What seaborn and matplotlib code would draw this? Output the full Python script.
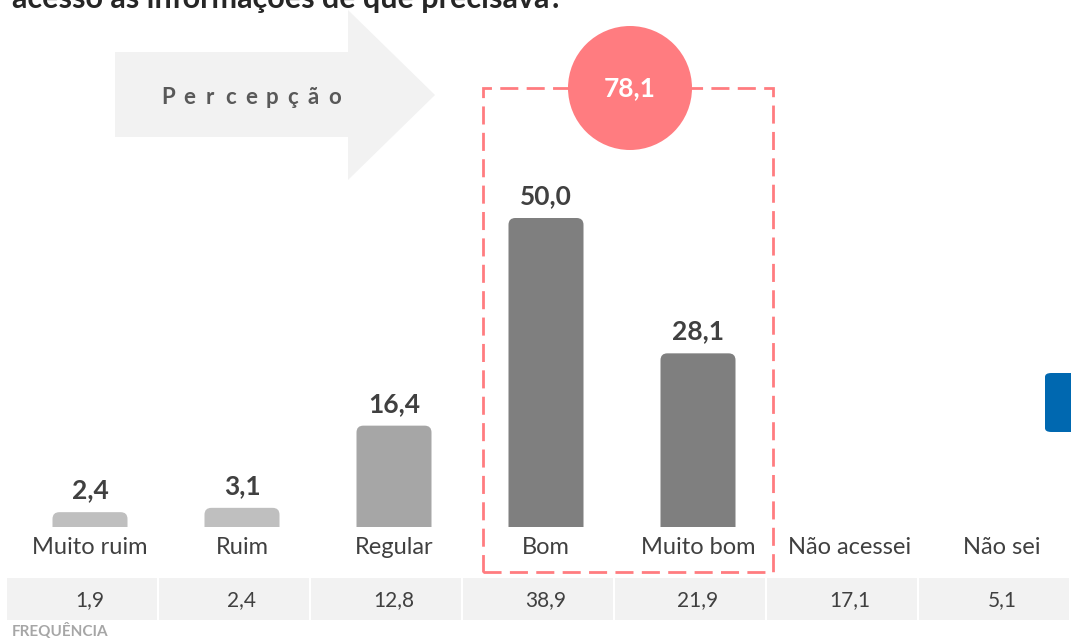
import numpy as np
import pandas as pd
import seaborn as sns
from matplotlib import pyplot as plt
from matplotlib.patches import FancyBboxPatch, Rectangle, Polygon, Ellipse

categories = ["Muito ruim", "Ruim", "Regular", "Bom", "Muito bom", "Não acessei", "Não sei"]
bar_categories = ["Muito ruim", "Ruim", "Regular", "Bom", "Muito bom"]
bar_values = [2.4, 3.1, 16.4, 50.0, 28.1]
frequencia = [1.9, 2.4, 12.8, 38.9, 21.9, 17.1, 5.1]
positive_total = 78.1
title_text = "acesso às informações de que precisava?"

bar_colors = {"Muito ruim": "#BFBFBF", "Ruim": "#BFBFBF", "Regular": "#A6A6A6",
              "Bom": "#7F7F7F", "Muito bom": "#7F7F7F"}

sns.set_theme(style="white")
plt.rcParams["font.family"] = ["Lato", "DejaVu Sans"]

W, H = 1071, 638
fig = plt.figure(figsize=(W / 100, H / 100), dpi=100)
ax = fig.add_axes([0, 0, 1, 1])


def fx(px):
    return px / W


def fy(py):
    return 1 - py / H


# bar axes mapping: category i centred at 90 + 152*i px, baseline at 527 px, 6.18 px per unit
step, x0, base, ppu = 152.0, 90.0, 527.0, 6.18

df = pd.DataFrame({"cat": bar_categories, "val": bar_values})
sns.barplot(data=df, x="cat", y="val", hue="cat", order=categories, palette=bar_colors,
            width=75 / step, legend=False, ax=ax, saturation=1)
ax.set_xlim(-x0 / step, (W - x0) / step)
ax.set_ylim(-(H - base) / ppu, base / ppu)

clip = Rectangle((-1, 0), 10, 200, transform=ax.transData)
for p in list(ax.patches):
    x, w, h = p.get_x(), p.get_width(), p.get_height()
    if np.isnan(h) or h == 0:
        continue
    fb = FancyBboxPatch((x, -3), w, h + 3,
                        boxstyle="round,pad=0,rounding_size=0.045",
                        mutation_aspect=step / ppu,
                        fc=p.get_facecolor(), ec="none", zorder=2)
    ax.add_patch(fb)
    fb.set_clip_path(clip)
    p.set_visible(False)
    ax.annotate(f"{h:.1f}".replace(".", ","), (x + w / 2, h), xytext=(0, 7),
                textcoords="offset points", ha="center", va="bottom",
                fontsize=19, fontweight="bold", color="#404040")

ax.set_xticks([])
ax.set_yticks([])
ax.set_xlabel("")
ax.set_ylabel("")
for s in ax.spines.values():
    s.set_visible(False)

# category labels
for i, c in enumerate(categories):
    fig.text(fx(x0 + step * i), fy(548), c, ha="center", va="center",
             fontsize=17, color="#404040")

# frequency table row
left, cell_w = 6, 152
for i, v in enumerate(frequencia):
    fig.patches.append(Rectangle((fx(left + cell_w * i + 1), fy(620)), fx(cell_w - 2), 42 / H,
                                 transform=fig.transFigure, fc="#F2F2F2", ec="none"))
    fig.text(fx(x0 + step * i), fy(600), f"{v:.1f}".replace(".", ","), ha="center",
             va="center", fontsize=15, color="#404040")
fig.text(fx(12), fy(631), "FREQUÊNCIA", ha="left", va="center", fontsize=11,
         fontweight="bold", color="#A6A6A6")

# arrow "Percepção"
arrow_px = [(115, 52), (348, 52), (348, 10), (435, 95), (348, 180), (348, 137), (115, 137)]
fig.patches.append(Polygon([(fx(a), fy(b)) for a, b in arrow_px], closed=True,
                           transform=fig.transFigure, fc="#F2F2F2", ec="none", zorder=0))
word = "Percepção"
for k, ch in enumerate(word):
    fig.text(fx(168 + k * 20.8), fy(97), ch, ha="center", va="center", fontsize=16,
             fontweight="bold", color="#595959")

# dashed highlight box and circle
fig.patches.append(Rectangle((fx(483), fy(572)), fx(290), (572 - 88) / H,
                             transform=fig.transFigure, fill=False, ec="#FF7C80",
                             lw=2, ls=(0, (6.5, 3)), zorder=3))
fig.patches.append(Ellipse((fx(630), fy(88)), 124 / W, 124 / H, transform=fig.transFigure,
                           fc="#FF7C80", ec="none", zorder=4))
fig.text(fx(630), fy(88), f"{positive_total:.1f}".replace(".", ","), ha="center",
         va="center", fontsize=19, fontweight="bold", color="white", zorder=5)

# blue tab on right edge
fig.patches.append(FancyBboxPatch((fx(1045), fy(432)), fx(40), 59 / H,
                                  boxstyle="round,pad=0,rounding_size=0.006",
                                  transform=fig.transFigure, fc="#0068B0", ec="none"))

# clipped title
fig.text(fx(12), fy(8), title_text, ha="left", va="baseline", fontsize=22,
         fontweight="bold", color="#262626")

fig.savefig("out.png", dpi=100)
